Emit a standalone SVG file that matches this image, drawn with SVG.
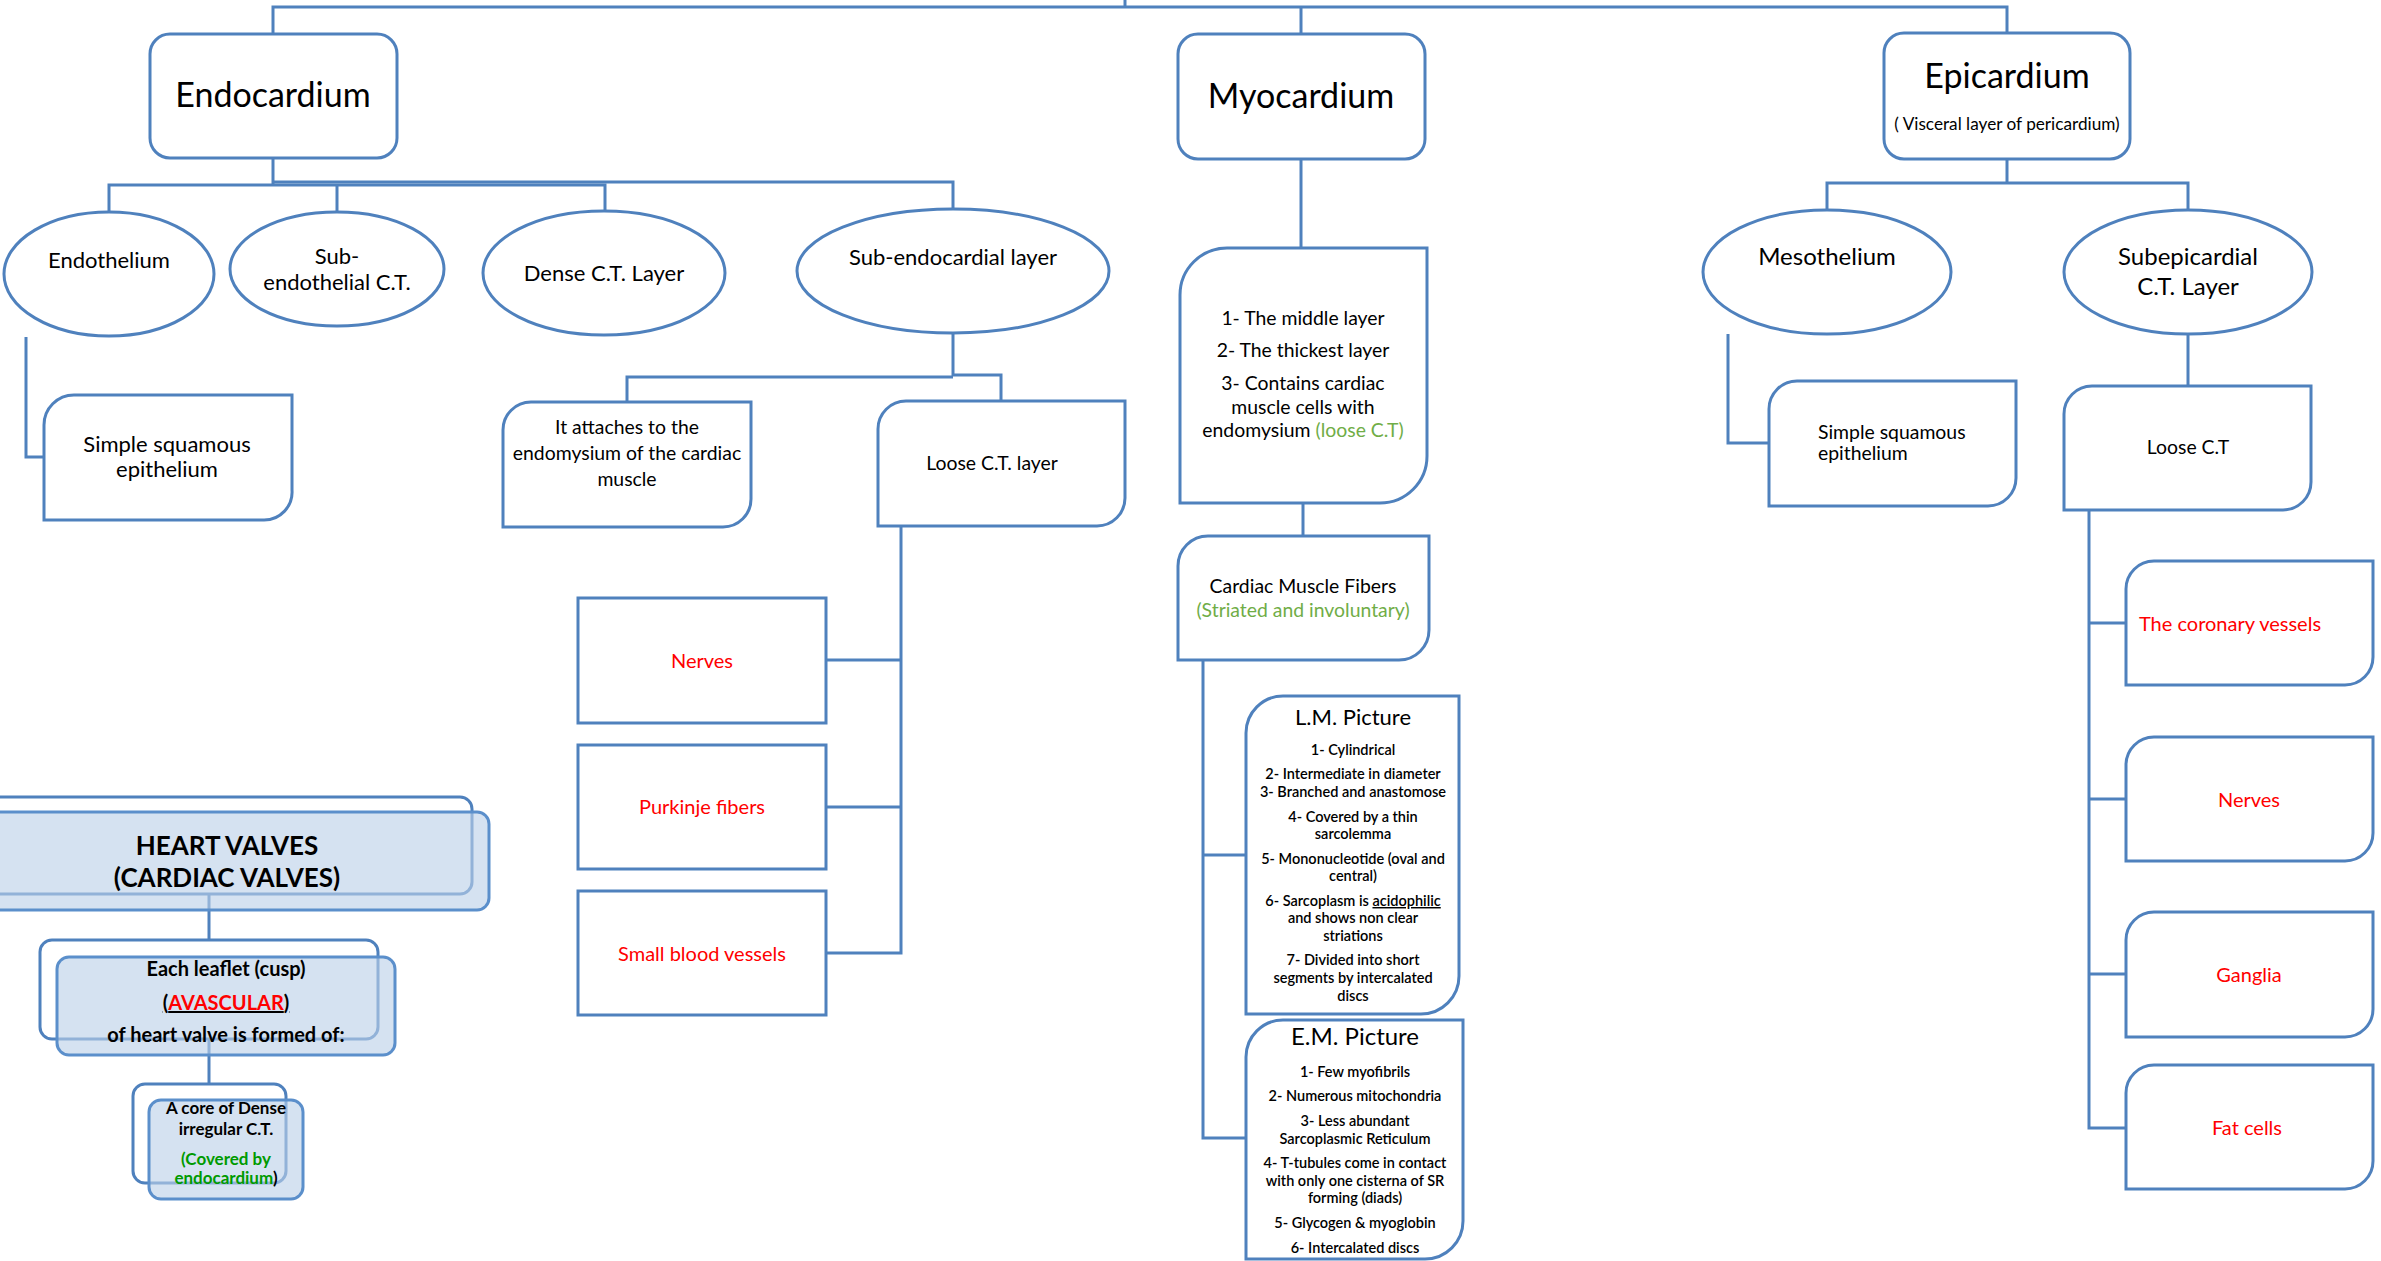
<svg xmlns="http://www.w3.org/2000/svg" width="2381" height="1261" viewBox="0 0 2381 1261">
<style>
text{font-family:Lato,"Liberation Sans",sans-serif;fill:#000;text-anchor:middle}
.n{fill:#fff;stroke:#4F81BD;stroke-width:3}
.v{fill:#fff;stroke:#4F81BD;stroke-width:3}
.f{fill:#BCD0E8;fill-opacity:.62;stroke:#5B8FCB;stroke-width:3}
.c{fill:none;stroke:#4F81BD;stroke-width:3}
.big{font-size:34px}
.m{font-size:22px}
.s{font-size:22px}
.t{font-size:19.4px}
.r{fill:#FF0000;font-size:20px}
.l{font-size:14.5px;font-weight:600}
.h{font-size:22px}
.g{fill:#70AD47}
.dg{fill:#009A00}
.bd{font-weight:bold}
</style>
<rect width="2381" height="1261" fill="#fff"/>
<g id="connectors" class="c">
<path d="M1125,0 V7"/>
<path d="M273,34 V7 H2007 V33"/>
<path d="M1301,7 V34"/>
<path d="M273,158 V184"/>
<path d="M109,211 V185 H605 V211"/>
<path d="M273,182 H953 V209"/>
<path d="M337,185 V212"/>
<path d="M26,337 V457 H44"/>
<path d="M953,333 V376"/>
<path d="M627,402 V377 H953 M953,375 H1001 V401"/>
<path d="M901,526 V953 H826"/>
<path d="M901,660 H826"/>
<path d="M901,807 H826"/>
<path d="M1301,159 V248"/>
<path d="M1303,503 V536"/>
<path d="M1203,660 V1138 H1247"/>
<path d="M1203,855 H1247"/>
<path d="M2007,159 V183"/>
<path d="M1827,210 V183 H2188 V210"/>
<path d="M1728,334 V443 H1769"/>
<path d="M2188,334 V386"/>
<path d="M2089,510 V1128 H2126"/>
<path d="M2089,623 H2126"/>
<path d="M2089,799 H2126"/>
<path d="M2089,974 H2126"/>
<path d="M209,880 V940"/>
<path d="M209,1030 V1084"/>
</g>

<g id="endocardium">
<rect class="n" x="150" y="34" width="247" height="124" rx="20"/>
<text class="big" x="273" y="107">Endocardium</text>
</g>
<g id="myocardium">
<rect class="n" x="1178" y="34" width="247" height="125" rx="20"/>
<text class="big" x="1301" y="108">Myocardium</text>
</g>
<g id="epicardium">
<rect class="n" x="1884" y="33" width="246" height="126" rx="20"/>
<text class="big" x="2007" y="88">Epicardium</text>
<text x="2007" y="130" style="font-size:17.2px">( Visceral layer of pericardium)</text>
</g>

<g id="endothelium">
<ellipse class="n" cx="109" cy="274" rx="105" ry="62"/>
<text class="m" x="109" y="268">Endothelium</text>
</g>
<g id="subendothelial">
<ellipse class="n" cx="337" cy="269" rx="107" ry="57"/>
<text class="m" x="337" y="264">Sub-</text>
<text class="m" x="337" y="290">endothelial C.T.</text>
</g>
<g id="dense-ct">
<ellipse class="n" cx="604" cy="273" rx="121" ry="62"/>
<text class="m" x="604" y="281">Dense C.T. Layer</text>
</g>
<g id="subendocardial">
<ellipse class="n" cx="953" cy="271" rx="156" ry="62"/>
<text class="m" x="953" y="265">Sub-endocardial layer</text>
</g>

<g id="simple-squamous-1">
<path class="n" d="M74,395 H292 V490 A28 28 0 0 1 264,520 H44 V425 A30 30 0 0 1 74,395 Z"/>
<text class="s" x="167" y="452">Simple squamous</text>
<text class="s" x="167" y="477">epithelium</text>
</g>
<g id="attaches">
<path class="n" d="M531,402 H751 V499 A28 28 0 0 1 723,527 H503 V430 A28 28 0 0 1 531,402 Z"/>
<text class="t" x="627" y="434">It attaches to the</text>
<text class="t" x="627" y="460">endomysium of the cardiac</text>
<text class="t" x="627" y="486">muscle</text>
</g>
<g id="loose-ct-layer">
<path class="n" d="M906,401 H1125 V498 A28 28 0 0 1 1097,526 H878 V429 A28 28 0 0 1 906,401 Z"/>
<text class="t" x="992" y="470">Loose C.T. layer</text>
</g>

<g id="nerves-1">
<rect class="n" x="578" y="598" width="248" height="125"/>
<text class="r" x="702" y="668">Nerves</text>
</g>
<g id="purkinje">
<rect class="n" x="578" y="745" width="248" height="124"/>
<text class="r" x="702" y="814">Purkinje fibers</text>
</g>
<g id="small-vessels">
<rect class="n" x="578" y="891" width="248" height="124"/>
<text class="r" x="702" y="961">Small blood vessels</text>
</g>

<g id="myo-desc">
<path class="n" d="M1227,248 H1427 V456 A47 47 0 0 1 1380,503 H1180 V295 A47 47 0 0 1 1227,248 Z"/>
<text class="t" x="1303" y="325">1- The middle layer</text>
<text class="t" x="1303" y="357">2- The thickest layer</text>
<text class="t" x="1303" y="390">3- Contains cardiac</text>
<text class="t" x="1303" y="414">muscle cells with</text>
<text class="t" x="1303" y="437">endomysium <tspan class="g">(loose C.T)</tspan></text>
</g>
<g id="cardiac-fibers">
<path class="n" d="M1208,536 H1429 V630 A30 30 0 0 1 1399,660 H1178 V566 A30 30 0 0 1 1208,536 Z"/>
<text class="t" x="1303" y="593">Cardiac Muscle Fibers</text>
<text class="t g" x="1303" y="617">(Striated and involuntary)</text>
</g>
<g id="lm-picture">
<path class="n" d="M1283,696 H1459 V976 A38 38 0 0 1 1421,1014 H1246 V733 A37 37 0 0 1 1283,696 Z"/>
<text class="h" x="1353" y="725">L.M. Picture</text>
<text class="l" x="1353" y="755">1- Cylindrical</text>
<text class="l" x="1353" y="779">2- Intermediate in diameter</text>
<text class="l" x="1353" y="797">3- Branched and anastomose</text>
<text class="l" x="1353" y="822">4- Covered by a thin</text>
<text class="l" x="1353" y="839">sarcolemma</text>
<text class="l" x="1353" y="864">5- Mononucleotide (oval and</text>
<text class="l" x="1353" y="881">central)</text>
<text class="l" x="1353" y="906">6- Sarcoplasm is <tspan text-decoration="underline">acidophilic</tspan></text>
<text class="l" x="1353" y="923">and shows non clear</text>
<text class="l" x="1353" y="941">striations</text>
<text class="l" x="1353" y="965">7- Divided into short</text>
<text class="l" x="1353" y="983">segments by intercalated</text>
<text class="l" x="1353" y="1001">discs</text>
</g>
<g id="em-picture">
<path class="n" d="M1283,1020 H1463 V1221 A38 38 0 0 1 1425,1259 H1246 V1057 A37 37 0 0 1 1283,1020 Z"/>
<text class="h" x="1355" y="1045" style="font-size:24px">E.M. Picture</text>
<text class="l" x="1355" y="1077">1- Few myofibrils</text>
<text class="l" x="1355" y="1101">2- Numerous mitochondria</text>
<text class="l" x="1355" y="1126">3- Less abundant</text>
<text class="l" x="1355" y="1144">Sarcoplasmic Reticulum</text>
<text class="l" x="1355" y="1168">4- T-tubules come in contact</text>
<text class="l" x="1355" y="1186">with only one cisterna of SR</text>
<text class="l" x="1355" y="1203">forming (diads)</text>
<text class="l" x="1355" y="1228">5- Glycogen &amp; myoglobin</text>
<text class="l" x="1355" y="1253">6- Intercalated discs</text>
</g>

<g id="mesothelium">
<ellipse class="n" cx="1827" cy="272" rx="124" ry="62"/>
<text x="1827" y="265" style="font-size:24px">Mesothelium</text>
</g>
<g id="subepicardial">
<ellipse class="n" cx="2188" cy="272" rx="124" ry="62"/>
<text x="2188" y="265" style="font-size:24px">Subepicardial</text>
<text x="2188" y="295" style="font-size:24px">C.T. Layer</text>
</g>
<g id="simple-squamous-2">
<path class="n" d="M1797,381 H2016 V478 A28 28 0 0 1 1988,506 H1769 V409 A28 28 0 0 1 1797,381 Z"/>
<text class="t" x="1818" y="439" style="text-anchor:start">Simple squamous</text>
<text class="t" x="1818" y="460" style="text-anchor:start">epithelium</text>
</g>
<g id="loose-ct">
<path class="n" d="M2092,386 H2311 V482 A28 28 0 0 1 2283,510 H2064 V414 A28 28 0 0 1 2092,386 Z"/>
<text class="t" x="2188" y="454">Loose C.T</text>
</g>
<g id="coronary">
<path class="n" d="M2154,561 H2373 V657 A28 28 0 0 1 2345,685 H2126 V589 A28 28 0 0 1 2154,561 Z"/>
<text class="r" x="2230" y="631">The coronary vessels</text>
</g>
<g id="nerves-2">
<path class="n" d="M2154,737 H2373 V833 A28 28 0 0 1 2345,861 H2126 V765 A28 28 0 0 1 2154,737 Z"/>
<text class="r" x="2249" y="807">Nerves</text>
</g>
<g id="ganglia">
<path class="n" d="M2154,912 H2373 V1009 A28 28 0 0 1 2345,1037 H2126 V940 A28 28 0 0 1 2154,912 Z"/>
<text class="r" x="2249" y="982">Ganglia</text>
</g>
<g id="fat-cells">
<path class="n" d="M2154,1065 H2373 V1161 A28 28 0 0 1 2345,1189 H2126 V1093 A28 28 0 0 1 2154,1065 Z"/>
<text class="r" x="2247" y="1135">Fat cells</text>
</g>

<g id="heart-valves">
<rect class="v" x="-20" y="797" width="492" height="97" rx="12"/>
<rect class="f" x="-20" y="812" width="509" height="98" rx="12"/>
<text class="bd" x="227" y="855" style="font-size:26px">HEART VALVES</text>
<text class="bd" x="227" y="887" style="font-size:26px">(CARDIAC VALVES)</text>
</g>
<g id="leaflet">
<rect class="v" x="40" y="940" width="338" height="99" rx="12"/>
<rect class="f" x="57" y="957" width="338" height="98" rx="12"/>
<text class="bd" x="226" y="976" style="font-size:20px">Each leaflet (cusp)</text>
<text class="bd" x="226" y="1010" style="font-size:20px" text-decoration="underline">(<tspan fill="#FF0000">AVASCULAR</tspan>)</text>
<text class="bd" x="226" y="1042" style="font-size:20px">of heart valve is formed of:</text>
</g>
<g id="core">
<rect class="v" x="133" y="1084" width="153" height="99" rx="12"/>
<rect class="f" x="149" y="1100" width="154" height="99" rx="12"/>
<text class="bd" x="226" y="1114" style="font-size:17px">A core of Dense</text>
<text class="bd" x="226" y="1135" style="font-size:17px">irregular C.T.</text>
<text class="bd dg" x="226" y="1165" style="font-size:17px">(Covered by</text>
<text class="bd" x="226" y="1184" style="font-size:17px"><tspan class="dg">endocardium</tspan>)</text>
</g>
</svg>
